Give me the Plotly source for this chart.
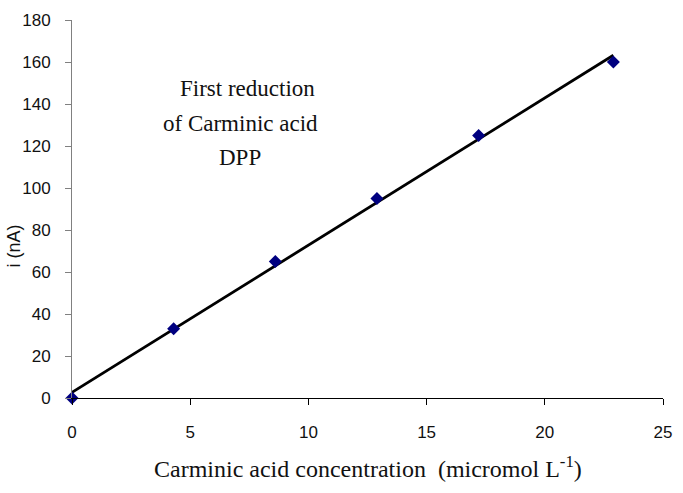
import numpy as np
import plotly.graph_objects as go

# Data
conc = [0, 4.3, 8.6, 12.9, 17.2, 22.9]          # micromol L^-1
current = [0, 33, 65, 95, 125, 160]              # nA

x_ticks = [0, 5, 10, 15, 20, 25]
y_ticks = [0, 20, 40, 60, 80, 100, 120, 140, 160, 180]

annot_lines = ["First reduction", "of Carminic acid", "DPP"]
x_title = "Carminic acid concentration  (micromol L<sup>-1</sup>)"
y_title = "i (nA)"

# linear trendline from the data
slope, intercept = np.polyfit(conc, current, 1)
fit_x = [min(conc), max(conc)]
fit_y = [slope * v + intercept for v in fit_x]

fig = go.Figure()
fig.add_trace(go.Scatter(
    x=fit_x, y=fit_y, mode="lines",
    line=dict(color="black", width=2.8),
    hoverinfo="skip", showlegend=False,
))
fig.add_trace(go.Scatter(
    x=conc, y=current, mode="markers",
    marker=dict(symbol="diamond", size=10, color="#000080"),
    cliponaxis=False, showlegend=False,
))

tick_font = dict(family="Liberation Sans Narrow, Arial Narrow, Liberation Sans", size=17, color="#111111")

fig.update_xaxes(
    range=[0, 25], tickvals=x_ticks, ticktext=[str(v) for v in x_ticks],
    showgrid=False, zeroline=False,
    showline=True, linecolor="black", linewidth=1,
    ticks="outside", ticklen=6, tickcolor="black", tickwidth=1,
    tickfont=tick_font, ticklabelstandoff=13,
)
fig.update_yaxes(
    range=[0, 180], tickvals=y_ticks, ticktext=[str(v) for v in y_ticks],
    showgrid=False, zeroline=False,
    showline=True, linecolor="#808080", linewidth=1,
    ticks="outside", ticklen=6, tickcolor="#808080", tickwidth=1,
    tickfont=tick_font, ticklabelstandoff=11,
)

serif = dict(family="Liberation Serif, Times New Roman", size=23, color="#111111")
annotations = []
line_x = [0.297, 0.285, 0.285]
line_y = [0.818, 0.726, 0.636]
for txt, xx, yy in zip(annot_lines, line_x, line_y):
    annotations.append(dict(
        text=txt, x=xx, y=yy, xref="paper", yref="paper",
        xanchor="center", yanchor="middle", showarrow=False, font=serif,
    ))
annotations.append(dict(
    text=x_title, x=0.5, y=-0.182, xref="paper", yref="paper",
    xanchor="center", yanchor="middle", showarrow=False,
    font=dict(family="Liberation Serif, Times New Roman", size=24, color="#111111"),
))
annotations.append(dict(
    text=y_title, x=-0.098, y=0.401, xref="paper", yref="paper",
    xanchor="center", yanchor="middle", showarrow=False, textangle=-90,
    font=dict(family="Liberation Sans, Arial", size=18, color="#111111"),
))

fig.update_layout(
    width=683, height=493,
    margin=dict(l=72, r=11, t=19, b=95),
    paper_bgcolor="white", plot_bgcolor="white",
    annotations=annotations,
    showlegend=False,
)

fig.write_html("out.html")
